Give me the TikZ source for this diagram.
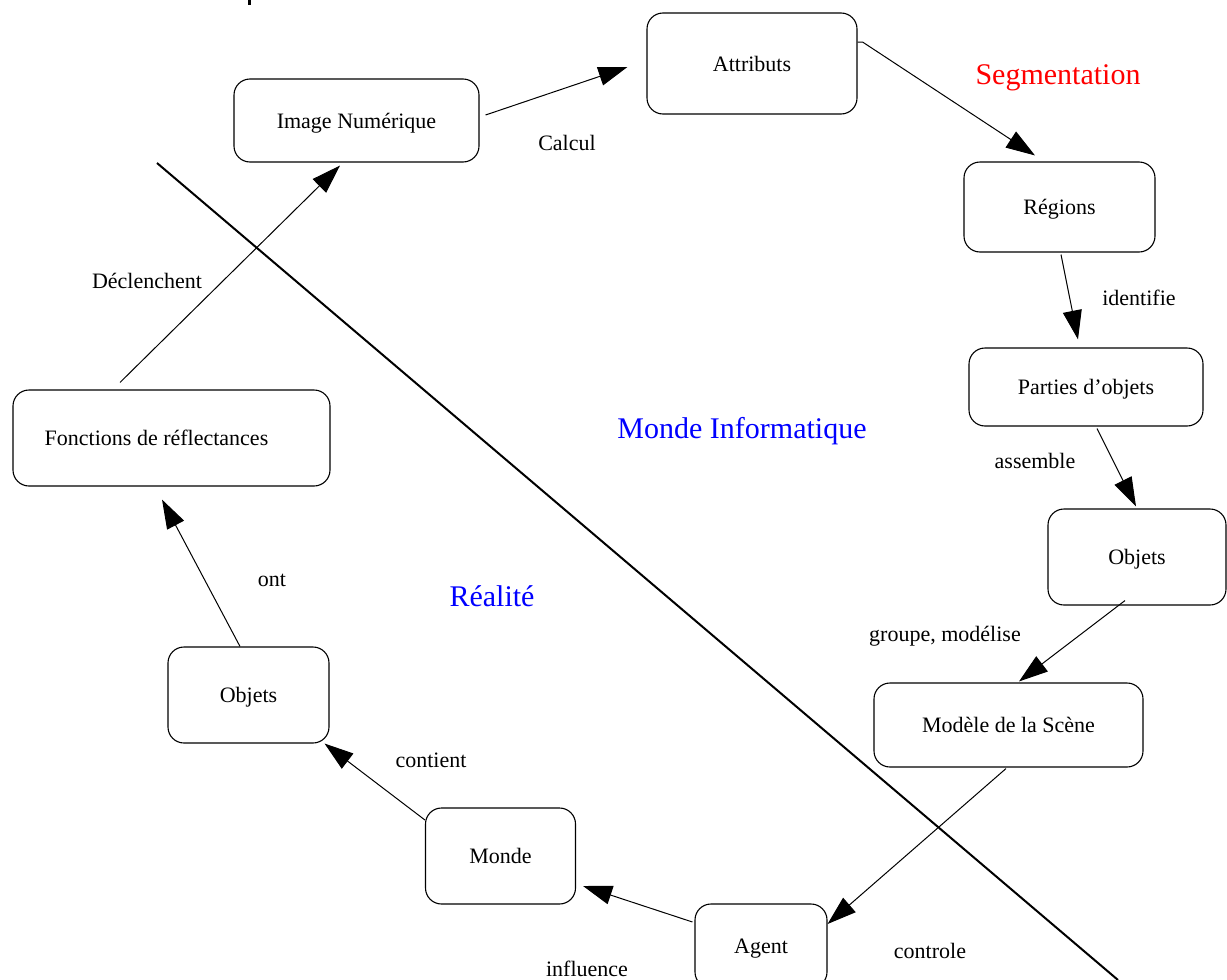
\documentclass[tikz,border=0pt]{standalone}
\usepackage{fontspec}
\setmainfont{Liberation Serif}
\usetikzlibrary{arrows.meta}
\definecolor{labred}{RGB}{255,0,0}
\definecolor{labblue}{RGB}{0,0,255}
\tikzset{
  box/.style={draw, line width=1.1pt, rounded corners=16pt, inner sep=0pt, text depth=0pt, font=\fontsize{22}{26}\selectfont},
  conn/.style={line width=1pt, -{Triangle[length=29pt,width=19pt]}},
  lbl/.style={font=\fontsize{22}{26}\selectfont, inner sep=0pt, text depth=0pt},
  biglbl/.style={font=\fontsize{30}{34}\selectfont, inner sep=0pt, text depth=0pt},
  divider/.style={line width=2pt}
}
\begin{document}
\begin{tikzpicture}[x=1pt,y=-1pt]
\useasboundingbox (0,0) rectangle (1227,980);
\clip (0,0) rectangle (1227,980);
\fill[white] (0,0) rectangle (1227,980);

% cut-off mark at the top
\fill (247.5,0) rectangle (251,5);

% dividing line
\coordinate (d1) at (157,163);
\coordinate (d2) at (1118,980);
\draw[divider] (d1) -- (d2);

% nodes
\node[box, minimum width=245pt, minimum height=83pt] (img) at (356.5,120.5) {Image Numérique};
\node[box, minimum width=210pt, minimum height=101pt] (attr) at (752,63.5) {Attributs};
\node[box, minimum width=191pt, minimum height=90pt] (reg) at (1059.5,207) {Régions};
\node[box, minimum width=234pt, minimum height=78pt] (parts) at (1086,387) {Parties d’objets};
\node[box, minimum width=178pt, minimum height=96pt] (objR) at (1137,557) {Objets};
\node[box, minimum width=269pt, minimum height=84pt] (model) at (1008.5,725) {Modèle de la Scène};
\node[box, minimum width=132pt, minimum height=84pt] (agent) at (761,946) {Agent};
\node[box, minimum width=150pt, minimum height=96pt] (monde) at (500.5,856) {Monde};
\node[box, minimum width=161pt, minimum height=96pt] (objL) at (248.5,695) {Objets};
\node[box, minimum width=317pt, minimum height=96pt] (fonc) at (171.5,438) {\hspace*{-30pt}Fonctions de réflectances};

% labels
\node[lbl] (lcalcul) at (567,143) {Calcul};
\node[biglbl, text=labred] (lseg) at (1058,75) {Segmentation};
\node[lbl] (lident) at (1139,298) {identifie};
\node[biglbl, text=labblue] (lmi) at (742,428) {Monde Informatique};
\node[lbl] (lassem) at (1035,461) {assemble};
\node[lbl] (lgroupe) at (945,634) {groupe, modélise};
\node[biglbl, text=labblue] (lreal) at (492,596) {Réalité};
\node[lbl] (lont) at (272,580) {ont};
\node[lbl] (lcont) at (431,760) {contient};
\node[lbl] (ldecl) at (147,281) {Déclenchent};
\node[lbl] (lctrl) at (930,951) {controle};
\node[lbl] (linfl) at (587,969) {influence};

% connectors
\draw[conn] ([shift={(6,-5.5)}]img.east) -- ([shift={(-19,3.5)}]attr.west);
\draw[conn] ([shift={(0,-21.5)}]attr.east) -- ([shift={(5,-21.5)}]attr.east) -- ([shift={(-24.5,-6)}]reg.north);
\draw[conn] ([shift={(1.5,2)}]reg.south) -- ([shift={(-8,-8)}]parts.north);
\draw[conn] ([shift={(11,2)}]parts.south) -- ([shift={(-1,-2)}]objR.north);
\draw[conn] ([shift={(-12,-5)}]objR.south) -- ([shift={(10.5,-1)}]model.north);
\draw[conn] ([shift={(-2.5,1)}]model.south) -- ([shift={(0,-22)}]agent.east);
\draw[conn] ([shift={(-2,-24)}]agent.west) -- ([shift={(7,30)}]monde.east);
\draw[conn] ([shift={(0,-36)}]monde.west) -- ([shift={(-5,0)}]objL.south east);
\draw[conn] ([shift={(-8.5,0)}]objL.north) -- ([shift={(-9.5,13)}]fonc.south);
\draw[conn] ([shift={(-51.5,-7)}]fonc.north) -- ([shift={(-16.5,3)}]img.south);
\end{tikzpicture}
\end{document}
